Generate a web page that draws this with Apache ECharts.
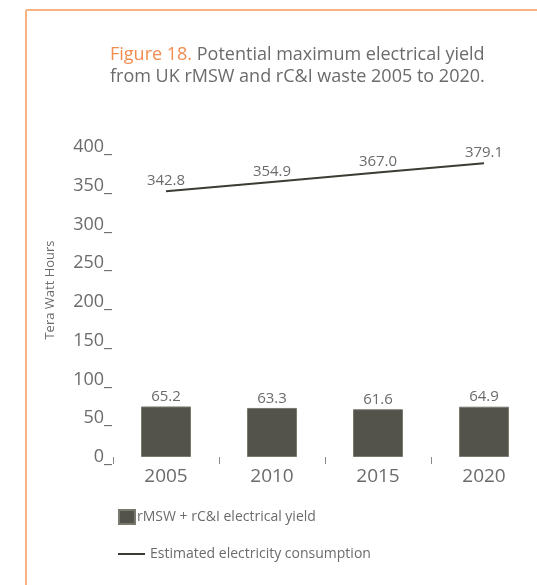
<!DOCTYPE html>
<html>
<head>
<meta charset="utf-8">
<script src="https://cdn.jsdelivr.net/npm/echarts@6/dist/echarts.min.js"></script>
<style>
    html, body { margin: 0; padding: 0; background: #fff; }
    #chart { width: 537px; height: 585px; }
</style>
</head>
<body>
<div id="chart"></div>
<script>
    // data
    var years = ['2005', '2010', '2015', '2020'];
    var yieldValues = [65.2, 63.3, 61.6, 64.9];
    var consumptionValues = [342.8, 354.9, 367.0, 379.1];
    var yTicks = [0, 50, 100, 150, 200, 250, 300, 350, 400];

    var grey = '#6b6b6b';
    var font = '"Open Sans", "Noto Sans", sans-serif';

    var chart = echarts.init(document.getElementById('chart'));
    var option = {
        animation: false,
        textStyle: { fontFamily: font },
        graphic: [
            /* orange frame */
            { type: 'line', shape: { x1: 26, y1: 10, x2: 537, y2: 10 }, style: { stroke: '#f8b382', lineWidth: 2 } },
            { type: 'line', shape: { x1: 26, y1: 10, x2: 26, y2: 585 }, style: { stroke: '#f8b382', lineWidth: 2 } },
            {
                type: 'text', left: 110, top: 44,
                style: {
                    text: '{o|Figure 18.} Potential maximum electrical yield\nfrom UK rMSW and rC&I waste 2005 to 2020.',
                    fontFamily: font, fontSize: 18, lineHeight: 22, fill: grey,
                    rich: { o: { fill: '#f28c4f', fontFamily: font, fontSize: 18, lineHeight: 22 } }
                }
            },
            /* y axis title */
            {
                type: 'text', x: 50, y: 290, rotation: Math.PI / 2,
                style: {
                    text: 'Tera Watt Hours', fill: grey, fontFamily: font, fontSize: 13,
                    textAlign: 'center', textVerticalAlign: 'middle'
                }
            }
        ],
        legend: [{
            orient: 'vertical', left: 113, top: 504,
            icon: 'rect', itemWidth: 16, itemHeight: 14,
            textStyle: { color: grey, fontSize: 14, fontFamily: font, padding: [0, 0, 0, -3] },
            data: ['rMSW + rC&I electrical yield']
        }, {
            orient: 'vertical', left: 113, top: 542,
            icon: 'rect', itemWidth: 27, itemHeight: 2,
            textStyle: { color: grey, fontSize: 14, fontFamily: font },
            data: ['Estimated electricity consumption']
        }],
        grid: { left: 113, top: 147, width: 428, height: 310, containLabel: false },
        xAxis: {
            type: 'category',
            data: years,
            axisLine: { show: false },
            axisTick: { show: true, length: 7, lineStyle: { color: '#8a8a8a', width: 1 } },
            axisLabel: { color: grey, fontSize: 19, margin: 10, fontFamily: font }
        },
        yAxis: {
            type: 'value',
            min: yTicks[0], max: yTicks[yTicks.length - 1], interval: 50,
            axisLine: { show: false },
            axisTick: { show: false },
            splitLine: { show: false },
            axisLabel: {
                color: grey, fontSize: 18, margin: 1, fontFamily: font,
                formatter: function (v) { return v + '_'; }
            }
        },
        series: [{
            name: 'rMSW + rC&I electrical yield',
            type: 'bar',
            data: yieldValues,
            barWidth: 50,
            itemStyle: { color: '#54534b', borderColor: '#7a7970', borderWidth: 1 },
            label: {
                show: true, position: 'top', distance: 2, color: grey, fontSize: 15, fontFamily: font,
                formatter: function (p) { return p.value.toFixed(1); }
            }
        }, {
            name: 'Estimated electricity consumption',
            type: 'line',
            data: consumptionValues,
            symbol: 'circle',
            symbolSize: 0,
            itemStyle: { color: '#3c3c34' },
            lineStyle: { color: '#3c3c34', width: 2 },
            label: {
                show: true, position: 'top', distance: 3, color: grey, fontSize: 15, fontFamily: font,
                formatter: function (p) { return p.value.toFixed(1); }
            }
        }]
    };
    chart.setOption(option);
</script>
</body>
</html>
